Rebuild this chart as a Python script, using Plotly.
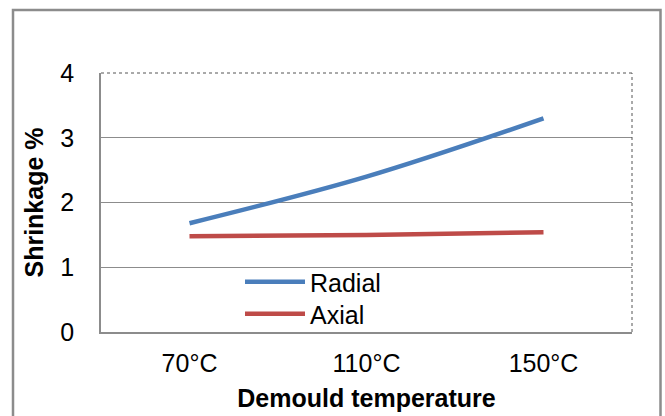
import plotly.graph_objects as go

categories = ["70°C", "110°C", "150°C"]
radial = [1.68, 2.40, 3.30]
axial = [1.48, 1.50, 1.54]
y_ticks = [0, 1, 2, 3, 4]

L, R, T, B = 101, 33, 73, 84
W, H = 665, 416
pw, ph = W - L - R, H - T - B

def px(x):
    return (x - L) / pw

def py(y):
    return (H - B - y) / ph

FONT = "Liberation Sans, Arial, sans-serif"

fig = go.Figure()
fig.add_trace(go.Scatter(x=categories, y=radial, mode="lines", name="Radial",
                         line=dict(color="#4a7ebb", width=4.5, shape="spline"),
                         legend="legend"))
fig.add_trace(go.Scatter(x=categories, y=axial, mode="lines", name="Axial",
                         line=dict(color="#be4b48", width=4.5, shape="spline"),
                         legend="legend2"))

leg_common = dict(xanchor="left", yanchor="middle", bgcolor="rgba(0,0,0,0)",
                  itemwidth=60, font=dict(size=25))

fig.update_layout(
    width=W, height=H,
    margin=dict(l=L, r=R, t=T, b=B, autoexpand=False),
    paper_bgcolor="white", plot_bgcolor="white",
    font=dict(family=FONT, size=25, color="black"),
    showlegend=True,
    legend=dict(x=px(240), y=py(282), **leg_common),
    legend2=dict(x=px(240), y=py(314), **leg_common),
    xaxis=dict(type="category", range=[-0.5, 2.5], showgrid=False, automargin=False,
               showline=True, linecolor="#8c8c8c", linewidth=1.5,
               ticks="", tickfont=dict(size=25), ticklabelstandoff=8,
               title=dict(text="<b>Demould temperature</b>", font=dict(size=25), standoff=14)),
    yaxis=dict(range=[0, 4], tickvals=y_ticks, showgrid=True, gridcolor="#8c8c8c",
               gridwidth=1.2, zeroline=False, showline=True, linecolor="#8c8c8c",
               linewidth=1.5, ticks="", tickfont=dict(size=25), ticklabelstandoff=20,
               automargin=False,
               title=dict(text="<b>Shrinkage %</b>", font=dict(size=25), standoff=10)),
    shapes=[
        dict(type="line", xref="paper", yref="paper", x0=0, x1=1, y0=1, y1=1,
             line=dict(color="#555555", width=1, dash="dot")),
        dict(type="line", xref="paper", yref="paper", x0=1, x1=1, y0=0, y1=1,
             line=dict(color="#555555", width=1, dash="dot")),
        dict(type="rect", xref="paper", yref="paper", x0=px(13), x1=px(660.5),
             y0=py(430), y1=py(10), line=dict(color="#8c8c8c", width=2.5),
             fillcolor="rgba(0,0,0,0)", layer="below"),
    ],
)

fig.write_html("out.html")
